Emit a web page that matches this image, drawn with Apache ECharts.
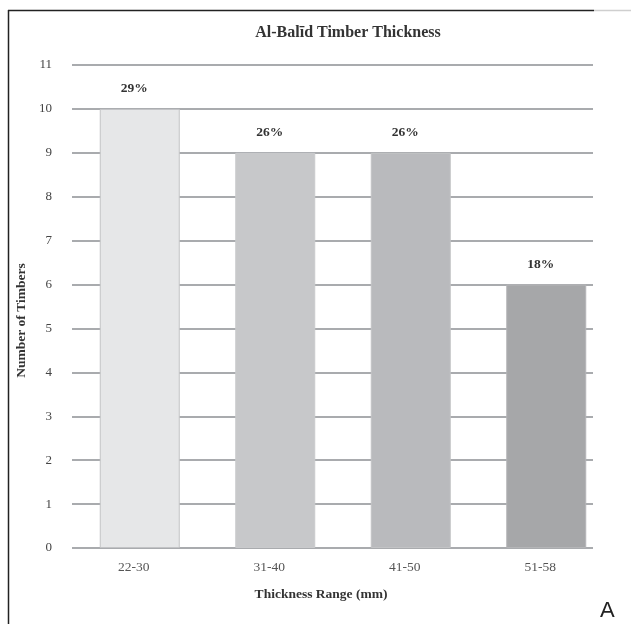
<!DOCTYPE html>
<html><head><meta charset="utf-8">
<script src="https://cdn.jsdelivr.net/npm/echarts@6/dist/echarts.min.js"></script>
<style>html,body{margin:0;padding:0;background:#fff}#c{width:631px;height:624px}</style>
</head><body><div id="c"></div>
<script>
const categories = ['22-30', '31-40', '41-50', '51-58'];
const counts = [10, 9, 9, 6];
const percentLabels = ['29%', '26%', '26%', '18%'];
const barColors = ['#e6e7e8', '#c7c8ca', '#b9babd', '#a6a7a9'];
const barBorders = ['#c2c3c5', '#c9cacc', '#c2c3c5', '#b4b5b7'];
const yMin = 0, yMax = 11, yStep = 1;

const serif = '"Liberation Serif", "DejaVu Serif", serif';
const chart = echarts.init(document.getElementById('c'), null, {renderer: 'canvas'});
chart.setOption({
  animation: false,
  backgroundColor: '#fff',
  title: {
    text: 'Al-Balīd Timber Thickness',
    left: 343, top: 20, textAlign: 'center',
    textStyle: {fontFamily: serif, fontWeight: 'bold', fontSize: 16, color: '#333'}
  },
  grid: [
    {left: 72, right: 38, top: 65, bottom: 76},
    {left: 72, right: 17, top: 65, bottom: 76}
  ],
  xAxis: [
    {gridIndex: 0, type: 'category', data: categories, show: false},
    {gridIndex: 1, type: 'category', data: categories,
     axisLine: {show: false}, axisTick: {show: false},
     axisLabel: {margin: 12, fontFamily: serif, fontSize: 13.5, color: '#555', padding: [0, 12, 0, 0]},
     name: 'Thickness Range (mm)', nameLocation: 'middle', nameGap: 40,
     nameTextStyle: {fontFamily: serif, fontWeight: 'bold', fontSize: 13.5, color: '#333', padding: [0, 44, 0, 0]}
    }
  ],
  yAxis: [
    {gridIndex: 0, type: 'value', min: yMin, max: yMax, interval: yStep,
     axisLine: {show: false}, axisTick: {show: false},
     axisLabel: {margin: 20, fontFamily: serif, fontSize: 13, color: '#444'},
     splitLine: {show: true, lineStyle: {color: '#a9abae', width: 2}},
     name: 'Number of Timbers', nameLocation: 'middle', nameGap: 40,
     nameTextStyle: {fontFamily: serif, fontWeight: 'bold', fontSize: 13.5, color: '#333', padding: [0, 28, 0, 0]}
    },
    {gridIndex: 1, type: 'value', min: yMin, max: yMax, interval: yStep, show: false,
     splitLine: {show: false}}
  ],
  series: [{
    type: 'bar', xAxisIndex: 1, yAxisIndex: 1, barWidth: 80, z: 5,
    data: counts.map((v, i) => ({
      value: v,
      itemStyle: {color: barColors[i], borderColor: barBorders[i], borderWidth: 1},
      label: {formatter: percentLabels[i]}
    })),
    label: {show: true, position: 'top', distance: 13, padding: [0, 11, 0, 0],
      fontFamily: serif, fontWeight: 'bold', fontSize: 13.5, color: '#333'}
  }],
  graphic: [
    {type: 'line', shape: {x1: 8.5, y1: 10, x2: 8.5, y2: 624}, style: {stroke: '#222', lineWidth: 1.5}},
    {type: 'line', shape: {x1: 8, y1: 10.5, x2: 594, y2: 10.5}, style: {stroke: '#222', lineWidth: 1.5}},
    {type: 'line', shape: {x1: 594, y1: 10.5, x2: 631, y2: 10.5}, style: {stroke: '#cfcfcf', lineWidth: 1.5}},
    {type: 'text', left: 600, top: 600,
     style: {text: 'A', font: '22px "Liberation Sans", "DejaVu Sans", sans-serif', fill: '#222'}}
  ]
});
</script></body></html>
